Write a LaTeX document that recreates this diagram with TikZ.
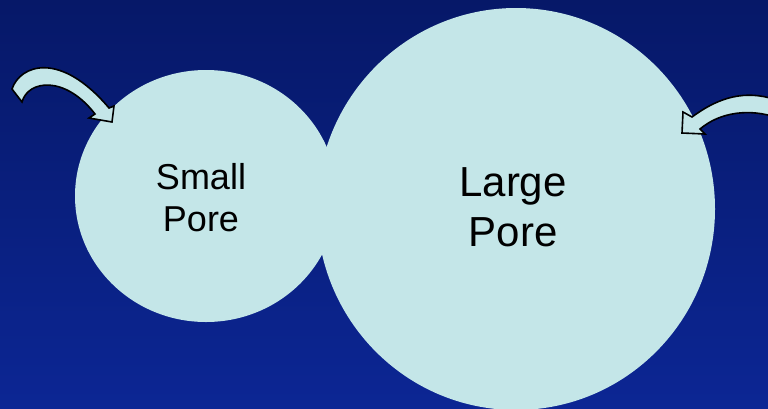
\documentclass[tikz,border=0pt]{standalone}
\usepackage{fontspec}
\setmainfont{Liberation Sans}
\usetikzlibrary{shapes.geometric}
\definecolor{bgtop}{RGB}{6,24,104}
\definecolor{bgbot}{RGB}{12,38,148}
\definecolor{pore}{RGB}{196,230,232}
\tikzset{
  porebox/.style={ellipse, fill=pore, draw=none, inner sep=0pt},
  porelabel/.style={align=center, text=black, inner sep=0pt},
  bentarrow/.style={fill=pore, draw=black, line width=1.6pt, line join=miter}
}
\begin{document}
\begin{tikzpicture}[x=1pt,y=-1pt]
\useasboundingbox (0,0) rectangle (768,408);
\shade[top color=bgtop, bottom color=bgbot] (0,0) rectangle (768,408);
\begin{scope}
\clip (0,0) rectangle (768,408);
\node[porebox, minimum width=262pt, minimum height=252pt] (small) at (206,196) {};
\node[porebox, minimum width=398pt, minimum height=402pt] (large) at (516,209) {};
\node[porelabel, font=\fontsize{36}{42}\selectfont] (smalltxt) at (201,197.5) {Small\\Pore};
\node[porelabel, font=\fontsize{42}{50}\selectfont] (largetxt) at (513,207.5) {Large\\Pore};
% left curved arrow
\draw[bentarrow] (12,89) .. controls (20,65) and (60,50) .. (109,108)
  -- (114,106) -- (112,122) -- (89,118) -- (95,114)
  .. controls (65,75) and (28,80) .. (22,102) -- cycle;
% right curved arrow
\draw[bentarrow] (692,117) .. controls (715,100) and (740,90) .. (770,98)
  -- (778,118)
  .. controls (750,108) and (720,112) .. (700,129)
  -- (705,134) -- (682,133) -- (683,112) -- cycle;
\end{scope}
\end{tikzpicture}
\end{document}
